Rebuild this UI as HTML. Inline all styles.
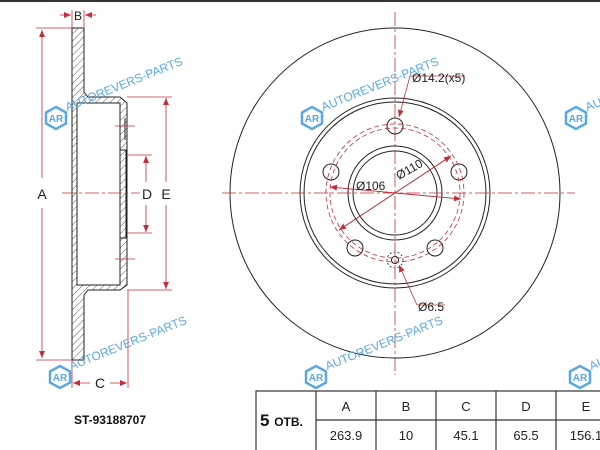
<!DOCTYPE html>
<html><head><meta charset="utf-8"><style>
html,body{margin:0;padding:0;background:#fff;width:600px;height:450px;overflow:hidden}
svg{display:block;font-family:"Liberation Sans",sans-serif}
</style></head><body>
<svg width="600" height="450" viewBox="0 0 600 450" xmlns="http://www.w3.org/2000/svg">
<defs>
<pattern id="h" patternUnits="userSpaceOnUse" width="5" height="5" patternTransform="rotate(45)">
<line x1="0" y1="0" x2="0" y2="5" stroke="#333" stroke-width="0.8"/></pattern>
<marker id="ar" markerWidth="8" markerHeight="8" refX="7" refY="4" orient="auto" markerUnits="userSpaceOnUse">
<path d="M0,1 L7,4 L0,7 z" fill="#c0303a"/></marker>
<g id="wm">
<polygon points="0,-11 10,-5.5 10,5.5 0,11 -10,5.5 -10,-5.5" fill="none" stroke="#5aa8e0" stroke-width="2.5"/>
<text x="0" y="4" font-size="10" fill="#5aa8e0" text-anchor="middle" font-weight="bold">AR</text>
<text x="13" y="-2" font-size="12" fill="#5aa8e0" transform="rotate(-22)">AUTOREVERS-PARTS</text>
</g>
</defs>
<rect width="600" height="450" fill="#fff"/>
<line x1="0" y1="1" x2="600" y2="1" stroke="#333" stroke-width="2"/>

<g stroke="#222" stroke-width="1" fill="url(#h)">
<path d="M72,28 H84 V92 L88,97 H120 L127,103 V285 L120,290 H88 L84,295 V360 H72 Z"/>
</g>
<g stroke="#222" stroke-width="1" fill="#fff">
<path d="M77,103 H120 V285 H77 Z"/>
<path d="M120,150 H126 V238 H120 Z" fill="none"/>
</g>
<line x1="77" y1="103" x2="77" y2="285" stroke="#222"/>
<line x1="120" y1="118" x2="120" y2="140" stroke="#222"/>
<line x1="125" y1="118" x2="125" y2="140" stroke="#222"/>
<line x1="62" y1="193" x2="140" y2="193" stroke="#c0303a" stroke-width="0.8" stroke-dasharray="14,3,3,3"/>
<g stroke="#c0303a" stroke-width="0.8" fill="none">
<line x1="36" y1="28" x2="72" y2="28"/><line x1="36" y1="360" x2="72" y2="360"/>
<line x1="42" y1="178" x2="42" y2="30" marker-end="url(#ar)"/>
<line x1="42" y1="208" x2="42" y2="358" marker-end="url(#ar)"/>
<line x1="72" y1="10" x2="72" y2="28"/><line x1="84" y1="10" x2="84" y2="28"/>
<line x1="60" y1="15" x2="71" y2="15" marker-end="url(#ar)"/>
<line x1="96" y1="15" x2="85" y2="15" marker-end="url(#ar)"/>
<line x1="72" y1="360" x2="72" y2="388"/><line x1="128" y1="290" x2="128" y2="388"/>
<line x1="90" y1="383" x2="73" y2="383" marker-end="url(#ar)"/>
<line x1="110" y1="383" x2="127" y2="383" marker-end="url(#ar)"/>
<line x1="127" y1="97" x2="172" y2="97"/><line x1="127" y1="290" x2="172" y2="290"/>
<line x1="127" y1="155" x2="152" y2="155"/><line x1="127" y1="233" x2="152" y2="233"/>
<line x1="146" y1="182" x2="146" y2="156" marker-end="url(#ar)"/>
<line x1="146" y1="205" x2="146" y2="232" marker-end="url(#ar)"/>
<line x1="166" y1="182" x2="166" y2="98" marker-end="url(#ar)"/>
<line x1="166" y1="205" x2="166" y2="289" marker-end="url(#ar)"/>
<line x1="115" y1="126" x2="135" y2="126"/><line x1="115" y1="259" x2="135" y2="259"/>
</g>
<g font-size="14" fill="#222" text-anchor="middle">
<text x="42" y="199">A</text><text x="78" y="20" font-size="12">B</text>
<text x="100" y="388">C</text><text x="147" y="199">D</text><text x="166" y="199">E</text>
</g>
<text x="110" y="424" font-size="12" font-weight="bold" text-anchor="middle" fill="#111">ST-93188707</text>

<g stroke="#222" fill="none" stroke-width="1">
<circle cx="395" cy="193" r="165"/>
<circle cx="395" cy="193" r="95"/><circle cx="395" cy="193" r="91"/>
<circle cx="395" cy="193" r="47"/><circle cx="395" cy="193" r="42"/>
<circle cx="395" cy="126" r="8"/><circle cx="459" cy="172" r="8"/><circle cx="435" cy="248" r="8"/>
<circle cx="355" cy="248" r="8"/><circle cx="331" cy="172" r="8"/>
<circle cx="395" cy="260" r="3.5"/>
</g>
<g stroke="#c0303a" fill="none" stroke-width="0.8">
<circle cx="395" cy="193" r="69" stroke-dasharray="5,3"/>
<circle cx="395" cy="193" r="65" stroke-dasharray="5,3"/>
<circle cx="395" cy="260" r="8" stroke="#222" stroke-dasharray="2,2"/>
<line x1="395" y1="12" x2="395" y2="375" stroke-dasharray="14,3,3,3"/>
<line x1="222" y1="193" x2="575" y2="193" stroke-dasharray="14,3,3,3"/>
<line x1="339" y1="230" x2="451" y2="156" marker-end="url(#ar)"/>
<line x1="451" y1="156" x2="339" y2="230" marker-end="url(#ar)"/>
<line x1="330" y1="187" x2="461" y2="199" marker-end="url(#ar)"/>
<line x1="461" y1="199" x2="330" y2="187" marker-end="url(#ar)"/>
<line x1="410" y1="76" x2="465" y2="76"/><line x1="410" y1="76" x2="399" y2="117" marker-end="url(#ar)"/>
<line x1="417" y1="305" x2="399" y2="265" marker-end="url(#ar)"/><line x1="417" y1="305" x2="445" y2="305"/>
</g>
<g font-size="12" fill="#222">
<text x="412" y="82">Ø14.2(x5)</text>
<text x="356" y="190">Ø106</text><text x="399" y="180" transform="rotate(-30 399 180)">Ø110</text>
<text x="418" y="311">Ø6.5</text>
</g>

<use href="#wm" x="56" y="118"/><use href="#wm" x="60" y="377"/>
<use href="#wm" x="312" y="118"/><use href="#wm" x="316" y="377"/>
<use href="#wm" x="576" y="118"/><use href="#wm" x="580" y="377"/>

<g stroke="#333" stroke-width="1.2" fill="none">
<rect x="256" y="391" width="360" height="70"/>
<line x1="316" y1="420" x2="600" y2="420"/>
<line x1="316" y1="391" x2="316" y2="450"/><line x1="376" y1="391" x2="376" y2="450"/>
<line x1="436" y1="391" x2="436" y2="450"/><line x1="496" y1="391" x2="496" y2="450"/>
<line x1="556" y1="391" x2="556" y2="450"/>
</g>
<g font-size="13" fill="#222" text-anchor="middle">
<text x="346" y="411">A</text><text x="406" y="411">B</text><text x="466" y="411">C</text>
<text x="526" y="411">D</text><text x="586" y="411">E</text>
<text x="346" y="440">263.9</text><text x="406" y="440">10</text><text x="466" y="440">45.1</text>
<text x="526" y="440">65.5</text><text x="586" y="440">156.1</text>
</g>
<text x="260" y="426" font-size="17" font-weight="bold" fill="#111">5 <tspan font-size="12">ОТВ.</tspan></text>
</svg>
</body></html>
